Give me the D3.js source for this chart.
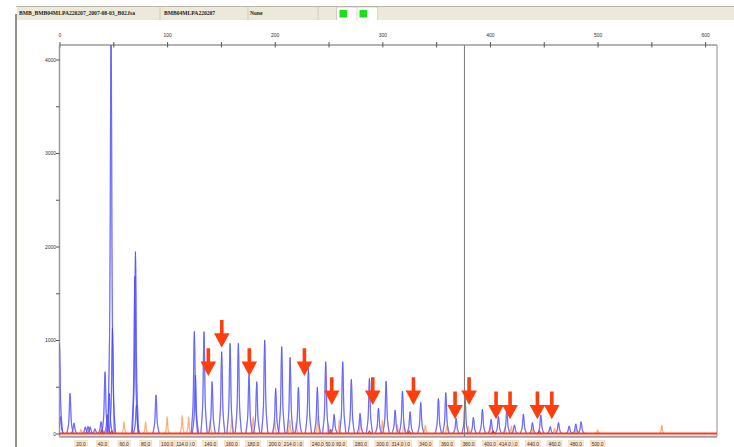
<!DOCTYPE html>
<html>
<head>
<meta charset="utf-8">
<script src="https://cdn.jsdelivr.net/npm/d3@7"></script>
<style>
  html, body { margin: 0; padding: 0; background: #fff; }
  svg { display: block; }
</style>
</head>
<body>
<svg id="chart" width="734" height="447"></svg>
<script>
// ---------- data ----------
const headerTexts = ["BMB_BMB04MLPA220207_2007-08-03_B02.fsa", "BMB04MLPA220207", "None"];

const topTickValues = [0, 50, 100, 150, 200, 250, 300, 350, 400, 450, 500, 550, 600];
const yTickValues = [0, 500, 1000, 1500, 2000, 2500, 3000, 3500, 4000];

// blue channel peaks: size (bp) and height (RFU)
const bluePos = [0, 0.8, 9.8, 13.5, 24, 26.5, 28.5, 33, 38.6, 42.3, 44.4, 46.3, 47.9, 49.2,
  70.0, 70.6, 71.5, 89.7, 125.3, 126.3, 134.3, 141.8, 150.7, 158.5, 166.2, 176.1, 183.3,
  190.7, 200.9, 206.5, 214.3, 222, 231.3, 239.6, 247.4, 255.2, 263.2, 271.2, 279.3, 288,
  296.4, 303.5, 311.9, 318.7, 325.8, 335.7, 352.1, 359, 368.6, 376.9, 384.6, 393, 401.1,
  407.9, 415.7, 422.8, 431.1, 439.5, 447.3, 456, 463.7, 473.6, 479.8, 484.7];
const blueHeight = [960, 180, 430, 112, 70, 75, 70, 50, 126, 660, 200, 430, 4400, 1130,
  1680, 1945, 305, 412, 1090, 625, 1089, 554, 875, 965, 965, 626, 554,
  1000, 483, 929, 815, 494, 697, 494, 768, 205, 768, 580, 216, 590,
  270, 561, 251, 454, 233, 333, 376, 436, 162, 376, 173, 259, 152,
  180, 251, 91, 208, 116, 198, 73, 116, 80, 102, 126];

// orange size-standard peaks (bp) and heights, with their labels
const sizeStd = [20, 40, 60, 80, 100, 114, 120, 140, 160, 180, 200, 214, 220, 240, 250, 260,
  280, 300, 314, 320, 340, 360, 380, 400, 414, 420, 440, 460, 480, 500];
const sizeStdHeight = [45, 40, 126, 126, 180, 195, 178, 144, 162, 180, 144, 144, 126, 180, 102, 144,
  162, 144, 91, 102, 91, 91, 73, 80, 73, 80, 55, 55, 55, 40];
const strayOrangePos = [559.7];
const strayOrangeHeight = [91];

// red channel small bumps
const redPos = [39, 48.5, 252, 288, 325, 403, 446];
const redHeight = [40, 30, 45, 30, 30, 30, 30];

// annotation arrows: size (bp) and tip height (RFU)
const arrowPos = [138.3, 150.8, 176.4, 227.6, 253, 291.1, 328.9, 367.6, 380.6, 405.7, 418.7, 444.1, 457.5];
const arrowTip = [615, 918, 615, 615, 305, 305, 305, 152, 305, 152, 152, 152, 152];

const cursorPos = 376.3;

// ---------- layout ----------
const svg = d3.select("#chart");
const x = d3.scaleLinear().domain([0, 611]).range([59.5, 717]);
const y = d3.scaleLinear().domain([-32, 4155]).range([436.5, 45]);

// left panel border
svg.append("line").attr("x1", 16).attr("x2", 16).attr("y1", 14).attr("y2", 447)
  .attr("stroke", "#6e6a60").attr("stroke-width", 1.5);

// header bar
svg.append("line").attr("x1", 16).attr("x2", 734).attr("y1", 6.5).attr("y2", 6.5)
  .attr("stroke", "#b8b4a8").attr("stroke-width", 1);
svg.append("rect").attr("x", 17).attr("y", 7).attr("width", 717).attr("height", 13)
  .attr("fill", "#ece9d8");
const seps = [160, 248, 318, 336.5, 357, 377];
seps.forEach(s => svg.append("line").attr("x1", s).attr("x2", s).attr("y1", 7).attr("y2", 20)
  .attr("stroke", "#d0ccbf").attr("stroke-width", 1));
svg.append("rect").attr("x", 337).attr("y", 8).attr("width", 19.5).attr("height", 12).attr("fill", "#fff");
svg.append("rect").attr("x", 357.5).attr("y", 8).attr("width", 19.5).attr("height", 12).attr("fill", "#fff");
svg.append("rect").attr("x", 339.5).attr("y", 10).attr("width", 7.5).attr("height", 7.5).attr("fill", "#19e019");
svg.append("rect").attr("x", 359.5).attr("y", 10).attr("width", 7.5).attr("height", 7.5).attr("fill", "#19e019");
const headerX = [19, 164, 250];
headerTexts.forEach((t, i) => svg.append("text").attr("x", headerX[i]).attr("y", 15.3)
  .attr("font-family", "Liberation Serif, serif").attr("font-weight", "bold")
  .attr("font-size", 5.6).attr("fill", "#222").text(t));

// clip
svg.append("clipPath").attr("id", "plotclip").append("rect")
  .attr("x", 59.5).attr("y", 45).attr("width", 717 - 59.5).attr("height", 436.5 - 45);

// frame (right + bottom)
svg.append("line").attr("x1", 717).attr("x2", 717).attr("y1", 45).attr("y2", 436.5)
  .attr("stroke", "#a0a0a0").attr("stroke-width", 1.2);
svg.append("line").attr("x1", 59.5).attr("x2", 717).attr("y1", 436.8).attr("y2", 436.8)
  .attr("stroke", "#a0a0a0").attr("stroke-width", 2);

// top axis
const topAxis = d3.axisTop(x).tickValues(topTickValues)
  .tickFormat(d => d % 100 === 0 ? d : "").tickSizeInner(3).tickSizeOuter(0);
const gTop = svg.append("g").attr("transform", "translate(0,45)").call(topAxis);
gTop.select(".domain").attr("stroke", "#9a9a9a").attr("stroke-width", 1.5)
  .attr("d", `M${x(0)},0H717`);
gTop.selectAll(".tick line").attr("stroke", "#555").attr("y1", 2.5).attr("y2", -3);
gTop.selectAll(".tick text").attr("font-family", "Liberation Sans, Arial, sans-serif")
  .attr("font-size", 5).attr("fill", "#333").attr("dy", "-0.5em");

// left axis
const leftAxis = d3.axisLeft(y).tickValues(yTickValues)
  .tickFormat(d => d % 1000 === 0 ? d : "").tickSizeInner(3.5).tickSizeOuter(0);
const gLeft = svg.append("g").attr("transform", `translate(${x(0)},0)`).call(leftAxis);
gLeft.select(".domain").attr("stroke", "#9a9a9a").attr("stroke-width", 1.5)
  .attr("d", `M0,45V436.5`);
gLeft.selectAll(".tick line").attr("stroke", "#555");
gLeft.selectAll(".tick text").attr("font-family", "Liberation Sans, Arial, sans-serif")
  .attr("font-size", 5).attr("fill", "#333").attr("x", -3.5);

// ---------- traces ----------
const plot = svg.append("g").attr("clip-path", "url(#plotclip)");
const line = d3.line().curve(d3.curveCatmullRom.alpha(0.5));

function peakPath(p, h, halfBase) {
  const cx = x(p), b = y(0), top = y(h);
  return line([
    [cx - halfBase, b],
    [cx - halfBase * 0.45, y(h * 0.25)],
    [cx - halfBase * 0.15, y(h * 0.8)],
    [cx, top],
    [cx + halfBase * 0.15, y(h * 0.8)],
    [cx + halfBase * 0.45, y(h * 0.25)],
    [cx + halfBase, b]
  ]);
}

// blue baseline
plot.append("line").attr("x1", x(0)).attr("x2", 717).attr("y1", y(0)).attr("y2", y(0))
  .attr("stroke", "#4d4dff").attr("stroke-width", 1);

// orange peaks
const orangeP = sizeStd.concat(strayOrangePos);
const orangeH = sizeStdHeight.concat(strayOrangeHeight);
plot.selectAll("path.orange").data(orangeP).join("path").attr("class", "orange")
  .attr("d", (d, i) => peakPath(d, orangeH[i], 2.2))
  .attr("fill", "none").attr("stroke", "#ffa566").attr("stroke-width", 1.2).attr("opacity", 0.9);

// blue peaks: light halo + core
plot.selectAll("path.bluehalo").data(bluePos).join("path").attr("class", "bluehalo")
  .attr("d", (d, i) => peakPath(d, blueHeight[i], 3.2))
  .attr("fill", "none").attr("stroke", "#a9a9ff").attr("stroke-width", 1.3);
plot.selectAll("path.blue").data(bluePos).join("path").attr("class", "blue")
  .attr("d", (d, i) => peakPath(d, blueHeight[i], 3.2))
  .attr("fill", "none").attr("stroke", "#3a3aff").attr("stroke-width", 0.6);

// red baseline and bumps
plot.append("line").attr("x1", x(0)).attr("x2", 717).attr("y1", y(0)).attr("y2", y(0))
  .attr("stroke", "#ff3a1a").attr("stroke-width", 2);
plot.selectAll("path.red").data(redPos).join("path").attr("class", "red")
  .attr("d", (d, i) => peakPath(d, redHeight[i], 2))
  .attr("fill", "none").attr("stroke", "#e02000").attr("stroke-width", 1);

// cursor line
svg.append("line").attr("x1", x(cursorPos)).attr("x2", x(cursorPos)).attr("y1", 45).attr("y2", 436.5)
  .attr("stroke", "#7a7a7a").attr("stroke-width", 1);

// ---------- arrows ----------
const arrowG = svg.append("g");
arrowPos.forEach((p, i) => {
  const cx = x(p), tip = y(arrowTip[i]);
  const headH = 14.4, headW = 15.6, shaftW = 3.6, shaftH = 13.3;
  const d = `M${cx - shaftW / 2},${tip - headH - shaftH}` +
    `H${cx + shaftW / 2}V${tip - headH}H${cx + headW / 2}` +
    `L${cx},${tip}L${cx - headW / 2},${tip - headH}H${cx - shaftW / 2}Z`;
  arrowG.append("path").attr("d", d).attr("fill", "#ff3d0d");
});

// ---------- size-standard labels (earlier labels drawn on top, as in the reference) ----------
const labG = svg.append("g");
const labelData = sizeStd.slice().reverse();
labelData.forEach(v => {
  const cx = x(v);
  const t = v.toFixed(1);
  const w = t.length * 2.6 + 2;
  const g = labG.append("g");
  g.append("rect").attr("x", cx - w / 2).attr("y", 440.5).attr("width", w).attr("height", 7)
    .attr("fill", "#fce3cc").attr("stroke", "#f3cfae").attr("stroke-width", 0.5);
  g.append("text").attr("x", cx).attr("y", 445.6).attr("text-anchor", "middle")
    .attr("font-family", "Liberation Sans, Arial, sans-serif").attr("font-size", 4.8)
    .attr("fill", "#333").text(t);
});
</script>
</body>
</html>
